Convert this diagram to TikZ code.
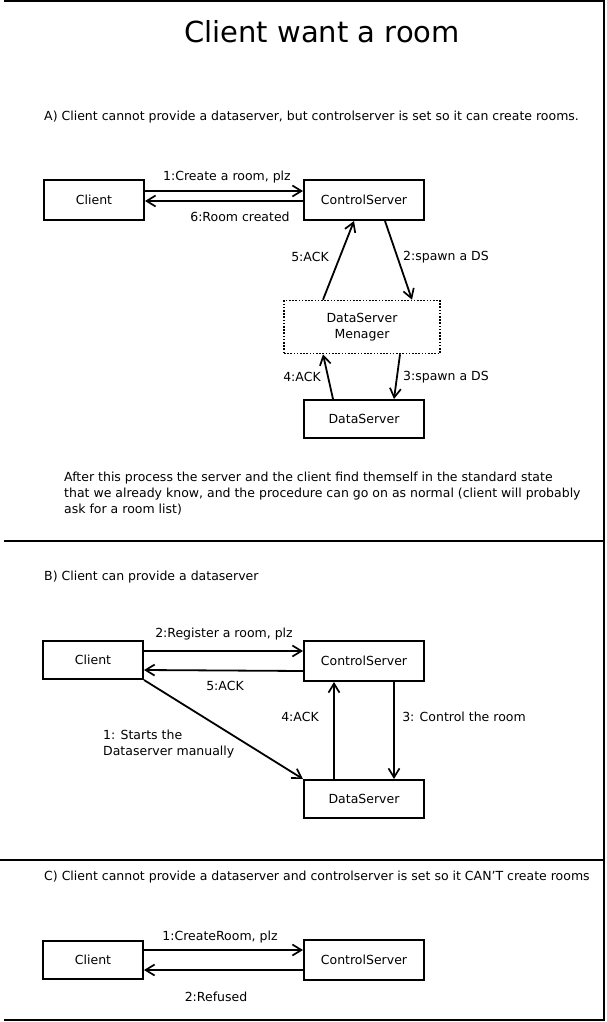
\documentclass[tikz,border=0pt]{standalone}
\usepackage{fontspec}
\setmainfont{DejaVu Sans}
\usetikzlibrary{arrows.meta}
\tikzset{box/.style={draw, line width=2pt, minimum height=39pt, inner sep=0pt, align=center},
  msg/.style={line width=1.8pt, -{Straight Barb[length=9pt,width=11pt,line width=1.7pt]}},
  lbl/.style={inner sep=0pt}}

\begin{document}
\begin{tikzpicture}[x=1pt, y=-1pt, font=\fontsize{12.5}{16}\selectfont]
  \useasboundingbox (0,0) rectangle (606,1022);
  \draw[line width=2pt] (4,1) -- (604,1) -- (604,1020) -- (4,1020);
  \draw[line width=2pt] (4,541) -- (604,541);
  \draw[line width=2pt] (0,860) -- (604,860);

  \node[lbl, font=\fontsize{29}{32}\selectfont] (title) at (322,32) {Client want a room};

  \node[lbl, anchor=west] (ta) at (44,117) {A) Client cannot provide a dataserver, but controlserver is set so it can create rooms.};
  \node[box, minimum width=100pt, minimum height=40pt] (cla) at (94,200) {Client};
  \node[box, minimum width=120pt, minimum height=40pt] (csa) at (364,200) {ControlServer};
  \node[box, minimum width=156pt, minimum height=53pt, line width=1.6pt, dash pattern=on 1.6pt off 1.6pt] (dm) at (362,327) {DataServer\\Menager};
  \node[box, minimum width=120pt, minimum height=38pt] (dsa) at (364,419) {DataServer};
  \draw[msg] ([yshift=9pt]cla.east) -- ([yshift=9pt]csa.west);
  \draw[msg] ([yshift=-1pt]csa.west) -- ([yshift=-1pt]cla.east);
  \draw[msg] ([xshift=21pt]csa.south) -- ([xshift=50pt]dm.north);
  \draw[msg] ([xshift=38pt]dm.south) -- ([xshift=30pt]dsa.north);
  \draw[msg] ([xshift=-31pt]dsa.north) -- ([xshift=-39pt]dm.south);
  \draw[msg] ([xshift=-39pt]dm.north) -- ([xshift=-10pt]csa.south);
  \node[lbl] (a1) at (227,177) {1:Create a room, plz};
  \node[lbl] (a6) at (240,217) {6:Room created};
  \node[lbl] (a2) at (446,257) {2:spawn a DS};
  \node[lbl] (a5) at (310,257) {5:ACK};
  \node[lbl] (a3) at (446,377) {3:spawn a DS};
  \node[lbl] (a4) at (302,377) {4:ACK};
  \node[lbl, anchor=north west, align=left] (note) at (64,472) {After this process the server and the client find themself in the standard state\\that we already know, and the procedure can go on as normal (client will probably\\ask for a room list)};

  \node[lbl, anchor=west] (tb) at (44,577) {B) Client can provide a dataserver};
  \node[box, minimum width=100pt, minimum height=38pt] (clb) at (93,660) {Client};
  \node[box, minimum width=120pt, minimum height=40pt] (csb) at (364,661) {ControlServer};
  \node[box, minimum width=120pt, minimum height=38pt] (dsb) at (364,799) {DataServer};
  \draw[msg] ([yshift=9pt]clb.east) -- ([yshift=10pt]csb.west);
  \draw[msg] ([yshift=-10pt]csb.west) -- ([yshift=-10pt]clb.east);
  \draw[msg] (clb.south east) -- (dsb.north west);
  \draw[msg] ([xshift=30pt]csb.south) -- ([xshift=30pt]dsb.north);
  \draw[msg] ([xshift=-30pt]dsb.north) -- ([xshift=-30pt]csb.south);
  \node[lbl] (b2) at (224,634) {2:Register a room, plz};
  \node[lbl] (b5) at (225,686) {5:ACK};
  \node[lbl] (b4) at (300,717) {4:ACK};
  \node[lbl] (b3) at (464,717) {3: Control the room};
  \node[lbl, anchor=north west, align=left] (b1) at (103,730) {1: Starts the\\Dataserver manually};

  \node[lbl, anchor=west] (tc) at (44,877) {C) Client cannot provide a dataserver and controlserver is set so it CAN'T create rooms};
  \node[box, minimum width=100pt, minimum height=38pt] (clc) at (93,960) {Client};
  \node[box, minimum width=120pt, minimum height=40pt] (csc) at (364,960) {ControlServer};
  \draw[msg] ([yshift=10pt]clc.east) -- ([yshift=10pt]csc.west);
  \draw[msg] ([yshift=-10pt]csc.west) -- ([yshift=-10pt]clc.east);
  \node[lbl] (c1) at (220,937) {1:CreateRoom, plz};
  \node[lbl] (c2) at (216,997) {2:Refused};
\end{tikzpicture}
\end{document}
